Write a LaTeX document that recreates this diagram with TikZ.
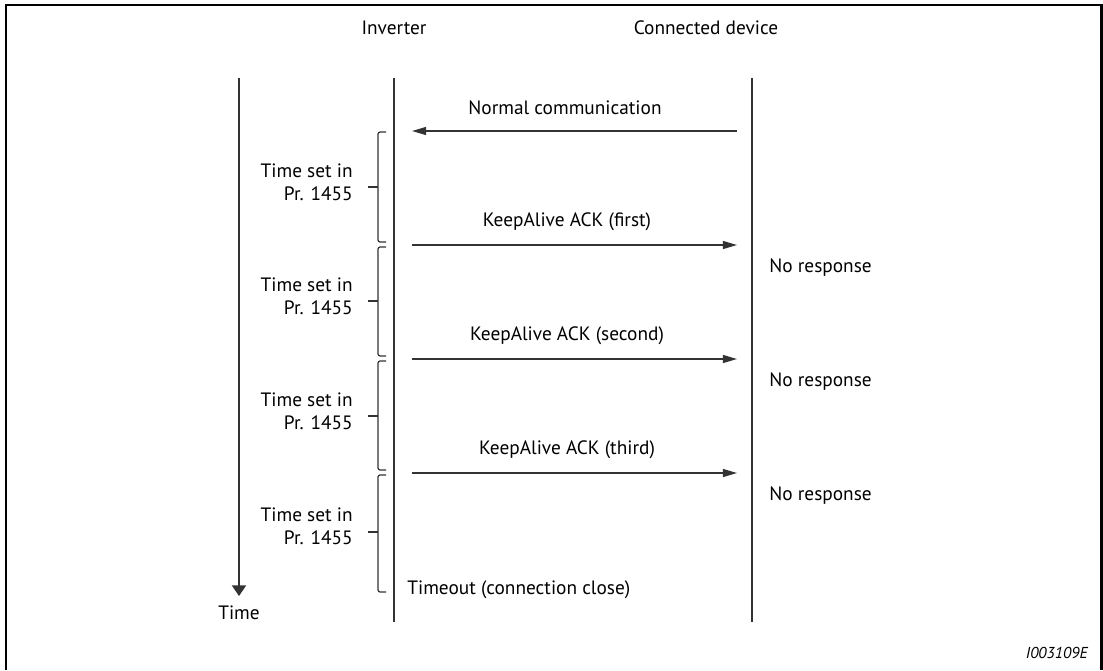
\documentclass[tikz,border=0pt]{standalone}
\usepackage{fontspec}
\setmainfont{PT Sans}
\usetikzlibrary{arrows.meta,positioning}
\tikzset{
    txt/.style={inner sep=0pt, font=\fontsize{11}{13.3}\selectfont},
    lifeline/.style={draw=black!80, line width=0.8pt},
    msg/.style={draw=black!80, line width=0.8pt, -{Triangle[length=8pt,width=4.5pt]}},
    timeaxis/.style={draw=black!80, line width=0.8pt, -{Triangle[length=6pt,width=8pt]}},
    spanbrace/.style={draw=black!80, line width=0.7pt, rounded corners=1.2pt},
    frameline/.style={draw=black, line width=1.7pt}
}

\begin{document}
\begin{tikzpicture}[x=0.02cm, y=-0.02cm]

\useasboundingbox (0,0) rectangle (1103,670);

%% outer frame, open at the bottom
\draw[frameline] (6,670) -- (6,5) -- (1101,5) -- (1101,670);

%% headings
\node[txt] (invlabel) at (394,28) {Inverter};
\node[txt] (devlabel) at (706,28) {Connected device};

%% lifelines
\coordinate (invtop) at (394,78);
\coordinate (invbot) at (394,622);
\coordinate (devtop) at (752,78);
\coordinate (devbot) at (752,622);
\draw[lifeline] (invtop) -- (invbot);
\draw[lifeline] (devtop) -- (devbot);

%% time axis
\coordinate (timetop) at (239,78);
\coordinate (timebot) at (239,596);
\draw[timeaxis] (timetop) -- (timebot);
\node[txt] (time) at (239,613) {Time};

%% Normal communication: device -> inverter
\coordinate (nc_dev) at (737,131);
\coordinate (nc_inv) at (412,131);
\draw[msg] (nc_dev) -- (nc_inv);
\node[txt] (nclabel) at (565,108) {Normal communication};

%% KeepAlive: inverter -> device
\coordinate (ka1_inv) at (412,245);
\coordinate (ka1_dev) at (737,245);
\draw[msg] (ka1_inv) -- (ka1_dev);
\node[txt] (ka1label) at (567,222) {KeepAlive ACK (first)};
\node[txt, anchor=west] (nr1) at (769,268) {No response};

\coordinate (ka2_inv) at (412,359);
\coordinate (ka2_dev) at (737,359);
\draw[msg] (ka2_inv) -- (ka2_dev);
\node[txt] (ka2label) at (567,336) {KeepAlive ACK (second)};
\node[txt, anchor=west] (nr2) at (769,382) {No response};

\coordinate (ka3_inv) at (412,473);
\coordinate (ka3_dev) at (737,473);
\draw[msg] (ka3_inv) -- (ka3_dev);
\node[txt] (ka3label) at (567,450) {KeepAlive ACK (third)};
\node[txt, anchor=west] (nr3) at (769,496) {No response};

%% waiting periods (braces on the inverter side)
\draw[spanbrace] (386,132) -- (378,132) -- (378,242) -- (386,242);
\draw[spanbrace] (368,187) -- (378,187);
\node[txt, anchor=east, align=right] (wait1) at (353,182) {Time set in\\Pr. 1455};

\draw[spanbrace] (386,247) -- (378,247) -- (378,356) -- (386,356);
\draw[spanbrace] (368,301) -- (378,301);
\node[txt, anchor=east, align=right] (wait2) at (353,296) {Time set in\\Pr. 1455};

\draw[spanbrace] (386,361) -- (378,361) -- (378,470) -- (386,470);
\draw[spanbrace] (368,416) -- (378,416);
\node[txt, anchor=east, align=right] (wait3) at (353,411) {Time set in\\Pr. 1455};

\draw[spanbrace] (386,475) -- (378,475) -- (378,592) -- (386,592);
\draw[spanbrace] (368,532) -- (378,532);
\node[txt, anchor=east, align=right] (wait4) at (353,526) {Time set in\\Pr. 1455};

\node[txt, anchor=west] (timeout) at (407,590) {Timeout (connection close)};

%% figure id
\node[txt, anchor=east, font=\fontsize{9}{11}\selectfont\itshape] (figid) at (1088,653) {I003109E};

\end{tikzpicture}
\end{document}
